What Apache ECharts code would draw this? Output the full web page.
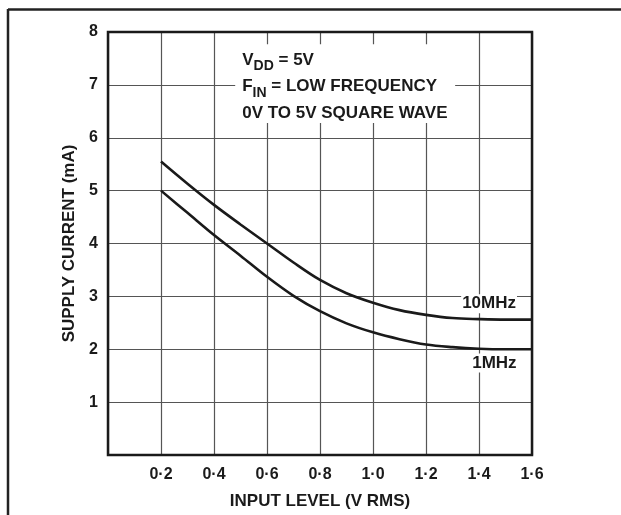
<!DOCTYPE html>
<html>
<head>
<meta charset="utf-8">
<script src="https://cdn.jsdelivr.net/npm/echarts@6/dist/echarts.min.js"></script>
<style>
html,body{margin:0;padding:0;background:#fff;}
#chart{width:621px;height:515px;}
</style>
</head>
<body>
<div id="chart"></div>
<script>
// ---- data ----
var xValues = [0.2, 0.3, 0.4, 0.5, 0.6, 0.7, 0.8, 0.9, 1.0, 1.1, 1.2, 1.3, 1.4, 1.5, 1.6];
var current10MHz = [5.55, 5.13, 4.73, 4.36, 4.00, 3.64, 3.31, 3.06, 2.88, 2.74, 2.65, 2.59, 2.57, 2.56, 2.56];
var current1MHz  = [5.00, 4.58, 4.16, 3.77, 3.37, 3.01, 2.72, 2.49, 2.32, 2.19, 2.09, 2.04, 2.01, 2.00, 2.00];
var seriesNames = ['10MHz', '1MHz'];
var xTickValues = [0.2, 0.4, 0.6, 0.8, 1.0, 1.2, 1.4, 1.6];
var yTickValues = [1, 2, 3, 4, 5, 6, 7, 8];
var xTitle = 'INPUT LEVEL (V RMS)';
var yTitle = 'SUPPLY CURRENT (mA)';
// annotation box region in data units [x0, y0, x1, y1]
var noteBox = [0.48, 6.28, 1.31, 7.77];
// label anchor points
var label10Pos = [1.438, 2.86];
var label1Pos = [1.458, 1.74];

var FONT = "'Liberation Sans Narrow', 'Liberation Sans', Arial, sans-serif";

function pairs(xs, ys) { return xs.map(function (x, i) { return [x, ys[i]]; }); }
function fmtX(v) {
  if (Math.abs(v) < 1e-9) return '';
  return v.toFixed(1).replace('.', '\u00B7');
}

var chart = echarts.init(document.getElementById('chart'));
var option = {
  animation: false,
  backgroundColor: '#fff',
  grid: { left: 108, right: 89, top: 32, bottom: 60, show: true, borderColor: '#1a1a1a', borderWidth: 2.5, backgroundColor: 'transparent', z: 5 },
  xAxis: {
    type: 'value', min: 0, max: 1.6, interval: 0.2,
    name: xTitle, nameLocation: 'middle', nameGap: 38,
    nameTextStyle: { fontFamily: FONT, fontWeight: 'bold', fontSize: 17, color: '#1a1a1a' },
    axisLine: { show: false },
    axisTick: { show: false },
    axisLabel: { formatter: fmtX, fontFamily: FONT, fontWeight: 'bold', fontSize: 16, color: '#1a1a1a', margin: 12,
      customValues: xTickValues },
    splitLine: { show: true, lineStyle: { color: '#555', width: 1.2 } }
  },
  yAxis: {
    type: 'value', min: 0, max: 8, interval: 1,
    name: yTitle, nameLocation: 'middle', nameGap: 26, nameRotate: 90,
    nameTextStyle: { fontFamily: FONT, fontWeight: 'bold', fontSize: 17, color: '#1a1a1a' },
    axisLine: { show: false },
    axisTick: { show: false },
    axisLabel: { formatter: function (v) { return v === 0 ? '' : String(v); }, fontFamily: FONT, fontWeight: 'bold', fontSize: 16, color: '#1a1a1a', margin: 10,
      customValues: yTickValues },
    splitLine: { show: true, lineStyle: { color: '#555', width: 1.2 } }
  },
  series: [
    {
      name: seriesNames[0], type: 'line', data: pairs(xValues, current10MHz),
      smooth: 0.35, showSymbol: false, symbol: 'none',
      lineStyle: { color: '#1a1a1a', width: 2.6 }, z: 3,
      markArea: {
        silent: true,
        itemStyle: { color: '#fff' },
        label: {
          show: true, position: 'insideLeft', distance: 7, offset: [0, 3],
          fontFamily: FONT, fontWeight: 'bold', fontSize: 17, color: '#1a1a1a', lineHeight: 26.5,
          formatter: '{m|V}{s|DD}{m| = 5V}\n{m|F}{s|IN}{m| = LOW FREQUENCY}\n{m|0V TO 5V SQUARE WAVE}',
          rich: {
            m: { fontFamily: FONT, fontWeight: 'bold', fontSize: 17, color: '#1a1a1a', lineHeight: 26.5 },
            s: { fontFamily: FONT, fontWeight: 'bold', fontSize: 14, color: '#1a1a1a', lineHeight: 12, verticalAlign: 'bottom' }
          }
        },
        data: [[{ coord: [noteBox[0], noteBox[1]] }, { coord: [noteBox[2], noteBox[3]] }]]
      },
      markPoint: {
        silent: true, symbol: 'rect', symbolSize: 0,
        label: { show: true, position: 'inside', formatter: seriesNames[0], fontFamily: FONT, fontWeight: 'bold', fontSize: 17, color: '#1a1a1a', backgroundColor: '#fff', padding: [1, 1] },
        data: [{ coord: label10Pos }]
      }
    },
    {
      name: seriesNames[1], type: 'line', data: pairs(xValues, current1MHz),
      smooth: 0.35, showSymbol: false, symbol: 'none',
      lineStyle: { color: '#1a1a1a', width: 2.6 }, z: 3,
      markPoint: {
        silent: true, symbol: 'rect', symbolSize: 0,
        label: { show: true, position: 'inside', formatter: seriesNames[1], fontFamily: FONT, fontWeight: 'bold', fontSize: 17, color: '#1a1a1a', backgroundColor: '#fff', padding: [1, 1] },
        data: [{ coord: label1Pos }]
      }
    }
  ],
  graphic: [
    { type: 'line', shape: { x1: 8, y1: 9.5, x2: 621, y2: 9.5 }, style: { stroke: '#222', lineWidth: 2.5 }, silent: true },
    { type: 'line', shape: { x1: 8, y1: 9, x2: 8, y2: 515 }, style: { stroke: '#222', lineWidth: 2.5 }, silent: true }
  ]
};
chart.setOption(option);
</script>
</body>
</html>
